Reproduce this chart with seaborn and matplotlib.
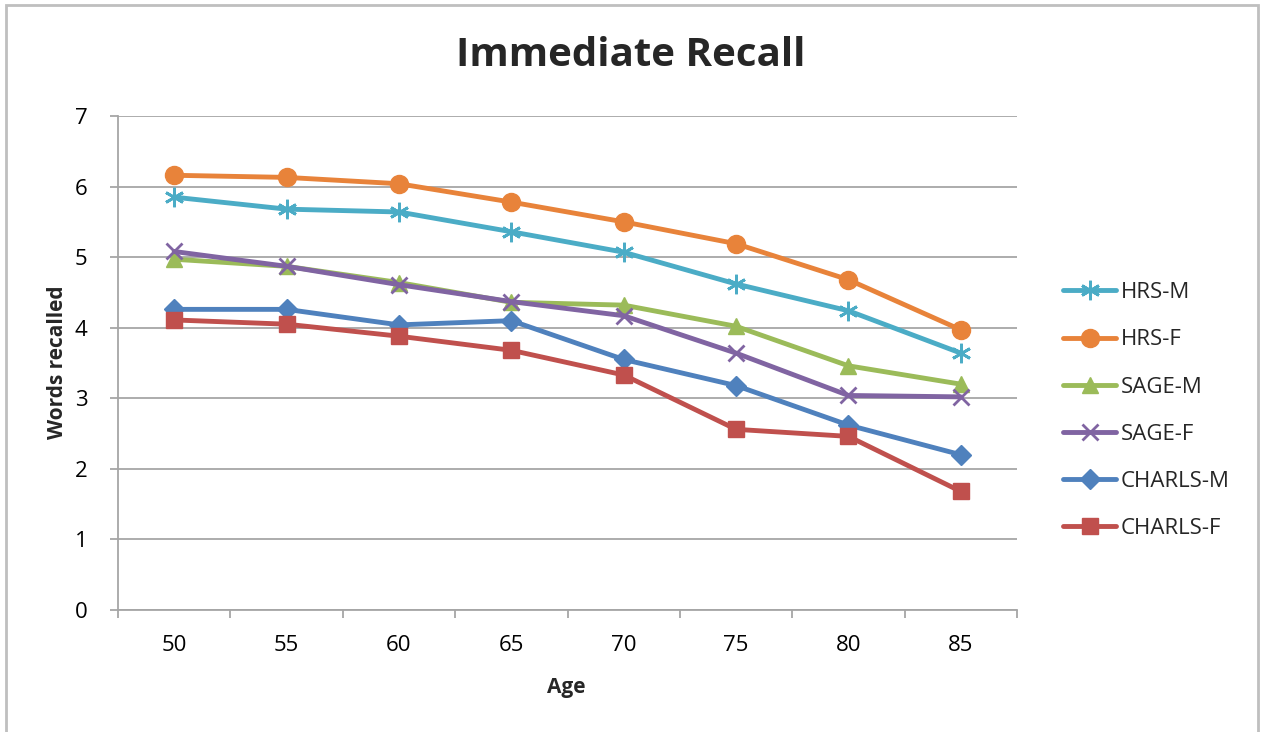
import matplotlib
matplotlib.use("Agg")
import matplotlib.pyplot as plt
import seaborn as sns
import pandas as pd
from matplotlib.patches import Rectangle
from matplotlib.ticker import FixedLocator

ages = [50, 55, 60, 65, 70, 75, 80, 85]
hrs_m = [5.85, 5.68, 5.64, 5.36, 5.07, 4.62, 4.24, 3.64]
hrs_f = [6.16, 6.13, 6.04, 5.78, 5.50, 5.19, 4.68, 3.97]
sage_m = [4.97, 4.87, 4.64, 4.36, 4.32, 4.02, 3.46, 3.20]
sage_f = [5.08, 4.87, 4.61, 4.37, 4.17, 3.64, 3.04, 3.02]
charls_m = [4.26, 4.26, 4.04, 4.10, 3.55, 3.18, 2.62, 2.20]
charls_f = [4.11, 4.05, 3.88, 3.68, 3.33, 2.56, 2.46, 1.68]

series_names = ["HRS-M", "HRS-F", "SAGE-M", "SAGE-F", "CHARLS-M", "CHARLS-F"]
series_values = [hrs_m, hrs_f, sage_m, sage_f, charls_m, charls_f]
colors = ["#4BACC6", "#E8833A", "#9BBB59", "#8064A2", "#4F81BD", "#C0504D"]
markers = [(6, 2, 0), "o", "^", "x", "D", "s"]
msizes = [14, 13, 12, 12, 10, 12]

sns.set_theme(style="white")
plt.rcParams['font.family'] = ['Open Sans', 'DejaVu Sans']

fig = plt.figure(figsize=(12.65, 7.32), dpi=100)
ax = fig.add_axes([118/1265, 1 - 610/732, (1017-118)/1265, (610-116)/732])

for name, vals, c, m, ms in zip(series_names, series_values, colors, markers, msizes):
    df = pd.DataFrame({"Age": ages, "Words": vals})
    lw_m = 2 if m in [(6, 2, 0), "x"] else 1
    sns.lineplot(data=df, x="Age", y="Words", ax=ax, color=c, linewidth=3.5,
                 marker=m, markersize=ms, markeredgecolor=c, markerfacecolor=c,
                 markeredgewidth=lw_m, label=name)

ax.set_xlim(47.5, 87.5)
ax.set_ylim(0, 7)
ax.set_xticks(ages)
ax.set_xticklabels([str(a) for a in ages])
ax.xaxis.set_minor_locator(FixedLocator([47.5 + 5 * i for i in range(9)]))
ax.set_yticks(range(0, 8))
ax.grid(axis="y", color="#A6A6A6", linewidth=1.3)
ax.grid(axis="x", visible=False)
for s in ["top", "right"]:
    ax.spines[s].set_visible(False)
for s in ["left", "bottom"]:
    ax.spines[s].set_color("#A6A6A6")
    ax.spines[s].set_linewidth(1.3)
ax.tick_params(axis="x", which="major", length=0, labelsize=16, pad=18, colors="black")
ax.tick_params(axis="x", which="minor", length=6, width=1.3, color="#A6A6A6", bottom=True)
ax.tick_params(axis="y", which="major", length=6, width=1.3, color="#A6A6A6", left=True,
               labelsize=16, pad=16, labelcolor="black")
ax.set_xlabel("Age", fontsize=15, fontweight="bold", va="center")
ax.set_ylabel("Words recalled", fontsize=15, fontweight="bold", va="center")
ax.xaxis.set_label_coords((566 - 118) / 899, (610 - 687) / 494)
ax.yaxis.set_label_coords((58 - 118) / 899, (610 - 362) / 494)

fig.text(631/1265, 1 - 56/732, "Immediate Recall", ha="center", va="center",
         fontsize=29, fontweight="bold")

leg = ax.legend(loc="upper left", bbox_to_anchor=(1052/1265, 1 - 271/732),
                bbox_transform=fig.transFigure, frameon=False, fontsize=16,
                labelspacing=1.18, handlelength=2.4, handletextpad=0.2,
                borderpad=0)

fig.patches.append(Rectangle((6/1265, -0.05), (1258-6)/1265, 1.05 - 5/732,
                             transform=fig.transFigure, fill=False,
                             edgecolor="#BFBFBF", linewidth=2))

fig.savefig("out.png", dpi=100)
